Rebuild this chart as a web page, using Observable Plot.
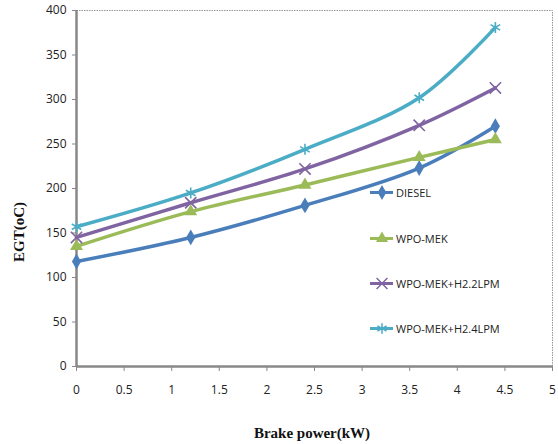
<!DOCTYPE html>
<html><head><meta charset="utf-8">
<script src="https://cdn.jsdelivr.net/npm/d3@7"></script>
<script src="https://cdn.jsdelivr.net/npm/@observablehq/plot@0.6"></script>
<style>
body{margin:0;background:#fff;}
#wrap{position:relative;width:558px;height:444px;}
.leg{position:absolute;font-family:"Open Sans",sans-serif;font-size:11px;color:#222;display:flex;align-items:center;}
</style></head>
<body><div id="wrap"></div>
<script>
const power = [0, 1.2, 2.4, 3.6, 4.4];
const series = ["DIESEL", "WPO-MEK", "WPO-MEK+H2.2LPM", "WPO-MEK+H2.4LPM"];
const diesel = [118, 145, 181, 223, 270];
const wpoMek = [135, 174, 204, 235, 255];
const h22 = [145, 184, 222, 271, 313];
const h24 = [157, 195, 244, 302, 381];
const colors = ["#4A7EBB", "#9BBB59", "#8064A2", "#4BACC6"];
const symbols = ["diamond", "triangle", "times", "asterisk"];
const xTicks = [0, 0.5, 1, 1.5, 2, 2.5, 3, 3.5, 4, 4.5, 5];
const yTicks = [0, 50, 100, 150, 200, 250, 300, 350, 400];

const vals = [diesel, wpoMek, h22, h24];
const data = [];
series.forEach((s, i) => power.forEach((p, j) => data.push({series: s, x: p, y: vals[i][j]})));

const W = 558, H = 444, mL = 76, mR = 6, mT = 10, mB = 78;
const chart = Plot.plot({
  width: W, height: H,
  marginLeft: mL, marginRight: mR, marginTop: mT, marginBottom: mB,
  style: {fontFamily: "'Open Sans', sans-serif", fontSize: "12px", color: "#222", background: "#fff"},
  x: {domain: [0, 5], ticks: xTicks, tickFormat: d => String(d), label: null},
  y: {domain: [0, 400], ticks: yTicks, label: null},
  color: {domain: series, range: colors},
  symbol: {domain: series, range: symbols},
  marks: [
    Plot.frame({stroke: "#999", strokeDasharray: "1.5,1", strokeWidth: 1}),
    Plot.axisY({ticks: yTicks, tickSize: 4, tickPadding: 6, stroke: "#888", fontSize: 12}),
    Plot.axisX({ticks: xTicks, tickSize: 5, tickPadding: 14, stroke: "#888", fontSize: 12, tickFormat: d => String(d)}),
    Plot.ruleX([0], {stroke: "#888", strokeWidth: 2.5}),
    Plot.ruleY([0], {stroke: "#888", strokeWidth: 2.5}),
    Plot.line(data, {x: "x", y: "y", z: "series", stroke: "series", strokeWidth: 3.5, curve: "catmull-rom"}),
    Plot.dot(data.filter(d => d.series === "DIESEL" || d.series === "WPO-MEK"), {x: "x", y: "y", symbol: "series", fill: "series", r: 4.8}),
    Plot.dot(data.filter(d => d.series !== "DIESEL" && d.series !== "WPO-MEK"), {x: "x", y: "y", symbol: "series", stroke: "series", strokeWidth: 1.6, r: 5.2})
  ]
});
const wrap = document.getElementById("wrap");
wrap.appendChild(chart);

// axis titles
const ns = "http://www.w3.org/2000/svg";
function addText(txt, x, y, rot) {
  const t = document.createElementNS(ns, "text");
  t.setAttribute("x", x); t.setAttribute("y", y);
  t.setAttribute("text-anchor", "middle");
  t.setAttribute("font-family", "'Liberation Serif', serif");
  t.setAttribute("font-weight", "bold");
  t.setAttribute("font-size", "15px");
  t.setAttribute("fill", "#111");
  if (rot) t.setAttribute("transform", `rotate(-90 ${x} ${y})`);
  t.textContent = txt;
  chart.appendChild(t);
}
addText("Brake power(kW)", 312, 438, false);
addText("EGT(oC)", 24, 232, true);

// legend
const legY = [192, 238, 283, 328];
series.forEach((s, i) => {
  const d = document.createElement("div");
  d.className = "leg";
  d.style.left = "370px"; d.style.top = (legY[i] - 9) + "px";
  const sw = Plot.plot({width: 23, height: 18, margin: 0, x: {domain: [0, 1], axis: null}, y: {domain: [0, 1], axis: null},
    marks: [
      Plot.ruleY([0.5], {stroke: colors[i], strokeWidth: 3}),
      Plot.dot([[0.5, 0.5]], i < 2 ? {symbol: symbols[i], fill: colors[i], r: 4.5} : {symbol: symbols[i], stroke: colors[i], strokeWidth: 1.5, r: 5})
    ]});
  d.appendChild(sw);
  const span = document.createElement("span");
  span.style.marginLeft = "3px";
  span.textContent = s;
  d.appendChild(span);
  wrap.appendChild(d);
});
</script></body></html>
